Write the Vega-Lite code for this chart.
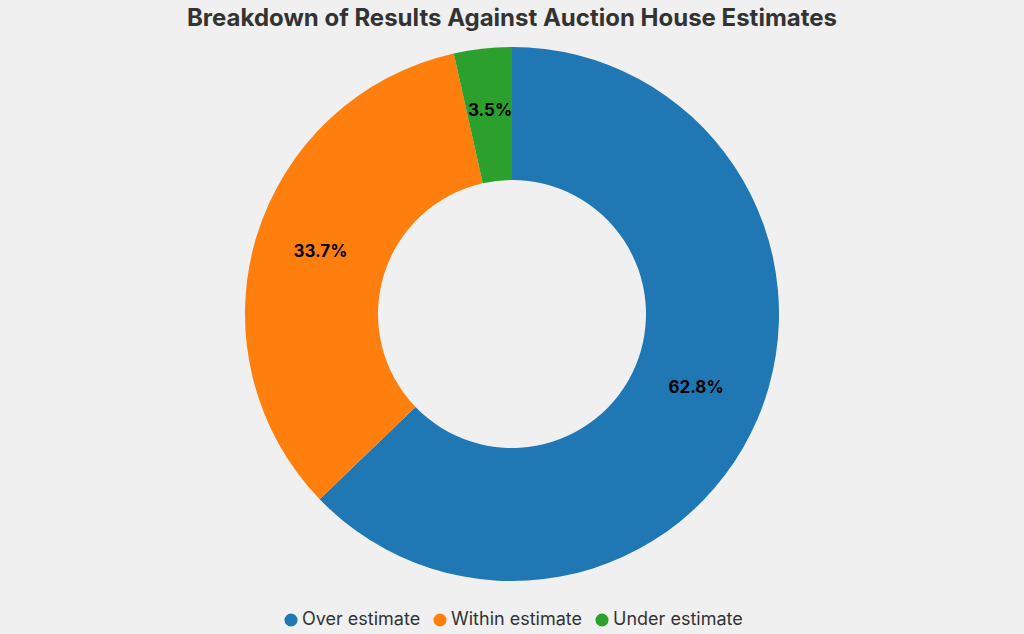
{
  "$schema": "https://vega.github.io/schema/vega-lite/v6.json",
  "autosize": "none",
  "width": 1024,
  "height": 534,
  "padding": {"top": 47, "bottom": 53, "left": 0, "right": 0},
  "background": "#f0f0f0",
  "title": {
    "text": "Breakdown of Results Against Auction House Estimates",
    "font": "Inter",
    "fontSize": 24,
    "fontWeight": "bold",
    "color": "#333333",
    "anchor": "middle",
    "offset": 16
  },
  "data": {
    "values": [
      {"result": "Over estimate", "share": 0.628},
      {"result": "Within estimate", "share": 0.337},
      {"result": "Under estimate", "share": 0.035}
    ]
  },
  "encoding": {
    "theta": {"field": "share", "type": "quantitative", "stack": true},
    "order": {"field": "share", "sort": "descending"},
    "color": {
      "field": "result",
      "type": "nominal",
      "scale": {
        "domain": ["Over estimate", "Within estimate", "Under estimate"],
        "range": ["#1f77b4", "#ff7f0e", "#2ca02c"]
      },
      "legend": {
        "orient": "bottom",
        "direction": "horizontal",
        "title": null,
        "symbolType": "circle",
        "symbolSize": 170,
        "symbolStrokeWidth": 0,
        "labelFont": "Inter",
        "labelFontSize": 18,
        "labelColor": "#333333",
        "labelOffset": 2,
        "columnPadding": 10,
        "offset": 30
      }
    }
  },
  "layer": [
    {
      "mark": {"type": "arc", "innerRadius": 134, "outerRadius": 267}
    },
    {
      "mark": {
        "type": "text",
        "radius": 200,
        "dy": -4,
        "font": "Inter",
        "fontSize": 17,
        "fontWeight": "bold"
      },
      "encoding": {
        "text": {"field": "share", "type": "quantitative", "format": ".1%"},
        "color": {"value": "#000000"}
      }
    }
  ],
  "config": {
    "view": {"stroke": null},
    "legend": {"layout": {"bottom": {"anchor": "middle"}}}
  }
}
